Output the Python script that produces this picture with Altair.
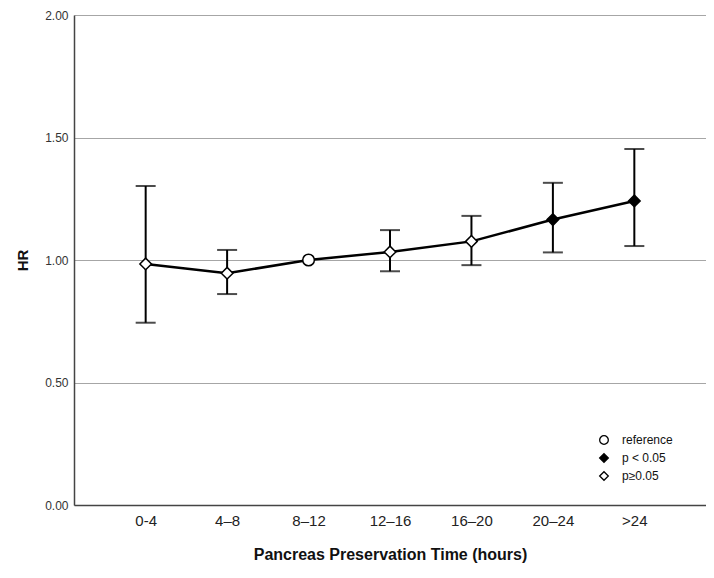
import altair as alt
import pandas as pd

categories = ["0-4", "4–8", "8–12", "12–16", "16–20", "20–24", ">24"]
hr = [0.984, 0.946, 1.00, 1.033, 1.076, 1.165, 1.241]
lower = [0.744, 0.861, None, 0.954, 0.979, 1.031, 1.057]
upper = [1.302, 1.041, None, 1.122, 1.180, 1.315, 1.453]
status = ["p≥0.05", "p≥0.05", "reference", "p≥0.05", "p≥0.05", "p < 0.05", "p < 0.05"]
legend_order = ["reference", "p < 0.05", "p≥0.05"]

df = pd.DataFrame({"cat": categories, "hr": hr, "lo": lower, "hi": upper, "status": status})
FONT = "Liberation Sans"

x = alt.X("cat:N", sort=categories,
          scale=alt.Scale(type="point", padding=0.88),
          axis=alt.Axis(title="Pancreas Preservation Time (hours)", labelAngle=0,
                        ticks=False, grid=False, domainColor="#444", domainWidth=1.5,
                        labelFontSize=15, labelColor="#222", labelPadding=8,
                        titleFontSize=16, titleFontWeight="bold", titleColor="#111",
                        titlePadding=18, labelFont=FONT, titleFont=FONT))

yscale = alt.Scale(domain=[0, 2])
yaxis = alt.Axis(title="HR", values=[0, 0.5, 1, 1.5, 2], format=".2f", ticks=False,
                 grid=True, gridColor="#a6a6a6", gridWidth=1.2, domainColor="#444",
                 domainWidth=1.5, labelFontSize=12, labelColor="#333", labelPadding=6,
                 titleFontSize=15, titleFontWeight="bold", titleColor="#111",
                 titlePadding=14, labelFont=FONT, titleFont=FONT)

base = alt.Chart(df)

line = base.mark_line(color="black", strokeWidth=2.5).encode(
    x=x, y=alt.Y("hr:Q", scale=yscale, axis=yaxis))

bars = base.transform_filter("datum.lo != null").mark_rule(color="black", strokeWidth=2).encode(
    x=x, y=alt.Y("lo:Q", scale=yscale), y2="hi:Q")

cap_lo = base.transform_filter("datum.lo != null").mark_tick(
    color="black", thickness=2, size=20, orient="horizontal").encode(
    x=x, y=alt.Y("lo:Q", scale=yscale))
cap_hi = base.transform_filter("datum.hi != null").mark_tick(
    color="black", thickness=2, size=20, orient="horizontal").encode(
    x=x, y=alt.Y("hi:Q", scale=yscale))

legend = alt.Legend(title=None, orient="none", legendX=524, legendY=419,
                    labelFont=FONT, labelFontSize=12, labelColor="#111",
                    symbolStrokeWidth=1.3, symbolSize=75,
                    rowPadding=4, labelOffset=12, padding=0)

points = base.mark_point(filled=True, strokeWidth=1.5, opacity=1, size=135).encode(
    x=x, y=alt.Y("hr:Q", scale=yscale),
    shape=alt.Shape("status:N", scale=alt.Scale(domain=legend_order,
                                                range=["circle", "diamond", "diamond"]),
                    legend=legend),
    fill=alt.Fill("status:N", scale=alt.Scale(domain=legend_order,
                                              range=["white", "black", "white"]),
                  legend=legend),
    stroke=alt.Stroke("status:N", scale=alt.Scale(domain=legend_order,
                                                  range=["black", "black", "black"]),
                      legend=legend))

chart = alt.layer(line, bars, cap_lo, cap_hi, points).properties(
    width=632, height=490,
    autosize=alt.AutoSizeParams(type="none"),
    padding={"left": 66, "top": 7, "right": 0, "bottom": 60},
    background="white"
).configure_view(stroke=None)

chart.save("out.html", embed_options={"renderer": "svg", "actions": False})
